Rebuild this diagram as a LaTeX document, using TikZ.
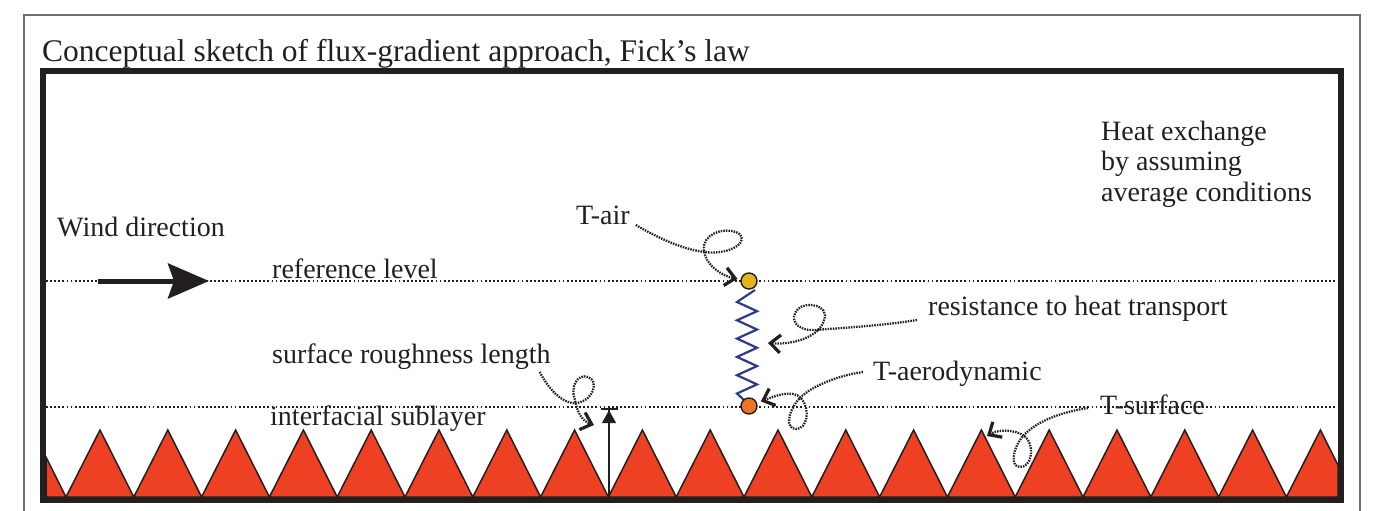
\documentclass[tikz,border=0pt]{standalone}
\usepackage{fontspec}
\setmainfont{Liberation Serif}
\usetikzlibrary{arrows.meta}
\definecolor{ink}{HTML}{231F20}
\definecolor{ground}{HTML}{EE4123}
\definecolor{airdot}{HTML}{E5B31F}
\definecolor{aerodot}{HTML}{EB7524}
\definecolor{spring}{HTML}{2B3990}
\definecolor{outerframe}{HTML}{6D6E71}
\tikzset{
  lbl/.style={anchor=base west, inner sep=0pt, text=ink, font=\fontsize{28}{30.5}\selectfont},
  levelline/.style={draw=ink, line width=2pt, dash pattern=on 1.8pt off 2.3pt},
  curly/.style={draw=ink, line width=2.3pt, dash pattern=on 1.5pt off 1.1pt,
    -{Straight Barb[length=10pt,width=18pt,line width=3.2pt]}},
  tempdot/.style={circle, draw=ink, line width=1.4pt, minimum size=16pt, inner sep=0pt},
}
\begin{document}
\begin{tikzpicture}[x=1pt,y=-1pt]
\useasboundingbox (0,0) rectangle (1385,511);
% outer thin frame
\draw[outerframe, line width=1.3pt] (24,511) -- (24,15) -- (1360,15) -- (1360,511);
% title
\node[lbl, font=\fontsize{31.5}{36}\selectfont] (title) at (42,62) {Conceptual sketch of flux-gradient approach, Fick’s law};
% ground sawtooth
\filldraw[fill=ground, draw=ink, line width=1.5pt, line join=miter]
  (46,497) -- (46,457)
  \foreach \k in {0,...,18} { -- ({66+67.8*\k},497) -- ({100+67.8*\k},430) }
  -- (1338,465) -- (1338,497) -- cycle;
% level lines
\coordinate (refL) at (46,281);
\coordinate (refR) at (1338,281);
\coordinate (subL) at (46,407);
\coordinate (subR) at (1338,407);
\draw[levelline] (refL) -- (refR);
\draw[levelline] (subL) -- (subR);
% thick frame
\draw[ink, line width=6pt] (43,71) rectangle (1341,500);
% wind arrow
\coordinate (windA) at (98,281);
\coordinate (windB) at (209,281);
\draw[ink, line width=5pt, -{Stealth[length=41pt,width=35pt,inset=6pt]}] (windA) -- (windB);
% labels
\node[lbl] (wind) at (57,236) {Wind direction};
\node[lbl] (reflev) at (272,278) {reference level};
\node[lbl] (rough) at (272,363) {surface roughness length};
\node[lbl] (inter) at (270,425) {interfacial sublayer};
\node[lbl] (tair) at (576,224) {T-air};
\node[lbl] (resist) at (928,315) {resistance to heat transport};
\node[lbl] (taero) at (873,380) {T-aerodynamic};
\node[lbl] (tsurf) at (1100,414) {T-surface};
\node[lbl, align=left, font=\fontsize{28}{30.5}\selectfont] (heat) at (1101,201) {Heat exchange\\by assuming\\average conditions};
% spring
\draw[spring, line width=2.2pt, line join=miter]
  (755,290) \foreach \k in {0,...,4} { -- (737,{302+18.3*\k}) -- (757,{311.2+18.3*\k}) }
  -- (737,393.5) -- (744,400);
\node[tempdot, fill=airdot] (ya) at (749,281) {};
\node[tempdot, fill=aerodot] (oa) at (749,406) {};
% roughness height arrow
\coordinate (zbot) at (609,497);
\coordinate (ztop) at (609,408);
\draw[ink, line width=1.8pt, -{Triangle[length=13pt,width=14pt]Bar[width=17pt,line width=2.2pt]}] (zbot) -- (ztop);
% curly connectors
\coordinate (resend) at (768,343);
\coordinate (tsend) at (987,436);
\coordinate (rgend) at (594,425);
\draw[curly, shorten >=3pt] ([shift={(6,1)}]tair.base east)
  .. controls (670,245) and (700,255) .. (720,252)
  .. controls (741,249) and (748,237) .. (736,232)
  .. controls (722,227) and (702,235) .. (704,250)
  .. controls (705,265) and (722,276) .. (ya);
\draw[curly] ([shift={(-11,5)}]resist.base west)
  .. controls (880,326) and (840,328) .. (815,330)
  .. controls (795,331) and (789,318) .. (798,309)
  .. controls (806,301) and (830,305) .. (824,320)
  .. controls (820,336) and (795,345) .. (resend);
\draw[curly, shorten >=4pt] ([shift={(-10,-8)}]taero.base west)
  .. controls (835,376) and (808,388) .. (798,400)
  .. controls (788,412) and (785,429) .. (796,429)
  .. controls (807,429) and (811,410) .. (801,398)
  .. controls (792,389) and (775,396) .. (oa);
\draw[curly] ([shift={(-12,-6)}]tsurf.base west)
  .. controls (1055,413) and (1030,425) .. (1020,440)
  .. controls (1012,452) and (1011,467) .. (1020,467)
  .. controls (1031,467) and (1034,450) .. (1028,440)
  .. controls (1022,430) and (1000,428) .. (tsend);
\draw[curly] ([shift={(-11,9)}]rough.base east)
  .. controls (550,392) and (565,405) .. (577,403)
  .. controls (594,400) and (599,381) .. (588,377)
  .. controls (577,373) and (570,388) .. (575,400)
  .. controls (577,412) and (582,421) .. (rgend);
\end{tikzpicture}
\end{document}
